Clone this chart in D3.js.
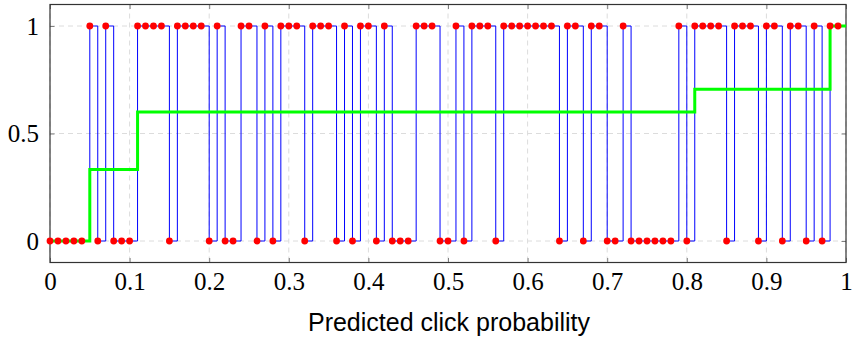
<!DOCTYPE html>
<html>
<head>
<meta charset="utf-8">
<script src="https://cdn.jsdelivr.net/npm/d3@7"></script>
<style>
  html, body { margin: 0; padding: 0; background: #fff; }
  svg { display: block; }
</style>
</head>
<body>
<svg id="chart" width="852" height="339"></svg>
<script>
// Predicted click probabilities (x) and observed clicks (y)
const predicted = [
  0.00,0.01,0.02,0.03,0.04,0.05,0.06,0.07,0.08,0.09,
  0.10,0.11,0.12,0.13,0.14,0.15,0.16,0.17,0.18,0.19,
  0.20,0.21,0.22,0.23,0.24,0.25,0.26,0.27,0.28,0.29,
  0.30,0.31,0.32,0.33,0.34,0.35,0.36,0.37,0.38,0.39,
  0.40,0.41,0.42,0.43,0.44,0.45,0.46,0.47,0.48,0.49,
  0.50,0.51,0.52,0.53,0.54,0.55,0.56,0.57,0.58,0.59,
  0.60,0.61,0.62,0.63,0.64,0.65,0.66,0.67,0.68,0.69,
  0.70,0.71,0.72,0.73,0.74,0.75,0.76,0.77,0.78,0.79,
  0.80,0.81,0.82,0.83,0.84,0.85,0.86,0.87,0.88,0.89,
  0.90,0.91,0.92,0.93,0.94,0.95,0.96,0.97,0.98,0.99
];
const clicks = [
  0,0,0,0,0,1,0,1,0,0,
  0,1,1,1,1,0,1,1,1,1,
  0,1,0,0,1,1,0,1,0,1,
  1,1,0,1,1,1,0,1,0,1,
  1,0,1,0,0,0,1,1,1,0,
  0,1,0,1,1,1,0,1,1,1,
  1,1,1,1,0,1,1,0,1,1,
  0,0,1,0,0,0,0,0,0,1,
  0,1,1,1,1,0,1,1,1,0,
  1,1,0,1,1,0,1,0,1,1
];
// Isotonic (calibration) step function
const calibX = [0, 0.05, 0.11, 0.81, 0.98, 1.0];
const calibY = [0, 0.333, 0.6, 0.706, 1, 1];

const xTicks = [0,0.1,0.2,0.3,0.4,0.5,0.6,0.7,0.8,0.9,1];
const xTickLabels = ["0","0.1","0.2","0.3","0.4","0.5","0.6","0.7","0.8","0.9","1"];
const yTicks = [0,0.5,1];
const yTickLabels = ["0","0.5","1"];
const xLabel = "Predicted click probability";

const svg = d3.select("#chart");
const pL = 50, pR = 846, pT = 4.5, pB = 262.5;
const x = d3.scaleLinear().domain([0,1]).range([pL,pR]);
const y = d3.scaleLinear().domain([-0.1,1.1]).range([pB,pT]);

// grid
const grid = svg.append("g");
grid.selectAll("line.gx").data(xTicks).join("line")
  .attr("x1", d=>x(d)).attr("x2", d=>x(d)).attr("y1", pT).attr("y2", pB)
  .attr("stroke", "#dcdcdc").attr("stroke-width", 1).attr("stroke-dasharray", "5,4");
grid.selectAll("line.gy").data(yTicks).join("line")
  .attr("y1", d=>y(d)).attr("y2", d=>y(d)).attr("x1", pL).attr("x2", pR)
  .attr("stroke", "#dcdcdc").attr("stroke-width", 1).attr("stroke-dasharray", "5,4");

// axes (ticks pointing inward)
const fmtX = d=>xTickLabels[xTicks.indexOf(d)];
const fmtY = d=>yTickLabels[yTicks.indexOf(d)];
const styleAxis = g => {
  g.select(".domain").remove();
  g.selectAll(".tick line").attr("stroke", "#7f7f7f");
  g.selectAll("text").attr("font-family", "'Liberation Serif', 'DejaVu Serif', serif")
    .attr("font-size", 25).attr("fill", "#000");
};
svg.append("g").attr("transform", `translate(0,${pB})`)
  .call(d3.axisBottom(x).tickValues(xTicks).tickFormat(fmtX).tickSizeInner(-4.5).tickSizeOuter(0).tickPadding(10))
  .call(styleAxis);
svg.append("g").attr("transform", `translate(0,${pT})`)
  .call(d3.axisTop(x).tickValues(xTicks).tickFormat("").tickSizeInner(-4.5).tickSizeOuter(0))
  .call(styleAxis);
svg.append("g").attr("transform", `translate(${pL},0)`)
  .call(d3.axisLeft(y).tickValues(yTicks).tickFormat(fmtY).tickSizeInner(-4.5).tickSizeOuter(0).tickPadding(11))
  .call(styleAxis);
svg.append("g").attr("transform", `translate(${pR},0)`)
  .call(d3.axisRight(y).tickValues(yTicks).tickFormat("").tickSizeInner(-4.5).tickSizeOuter(0))
  .call(styleAxis);

// box
svg.append("rect").attr("x", pL).attr("y", pT).attr("width", pR-pL).attr("height", pB-pT)
  .attr("fill", "none").attr("stroke", "#333").attr("stroke-width", 1.2);

const pts = predicted.map((p,i)=>({x:p, y:clicks[i]}));

// blue step line through observations
const stepLine = d3.line().x(d=>x(d.x)).y(d=>y(d.y)).curve(d3.curveStepAfter);
svg.append("path").datum(pts).attr("d", stepLine)
  .attr("fill", "none").attr("stroke", "#0000ff").attr("stroke-width", 1);

// green calibration step
const calib = calibX.map((c,i)=>({x:c, y:calibY[i]}));
svg.append("path").datum(calib).attr("d", stepLine)
  .attr("fill", "none").attr("stroke", "#00ff00").attr("stroke-width", 3);

// red markers
svg.append("g").selectAll("circle").data(pts).join("circle")
  .attr("cx", d=>x(d.x)).attr("cy", d=>y(d.y)).attr("r", 3.4).attr("fill", "#ff0000");

// x label
svg.append("text").attr("x", 449).attr("y", 331).attr("text-anchor", "middle")
  .attr("font-family", "'Liberation Sans', Arial, sans-serif").attr("font-size", 25)
  .attr("fill", "#000").text(xLabel);
</script>
</body>
</html>
